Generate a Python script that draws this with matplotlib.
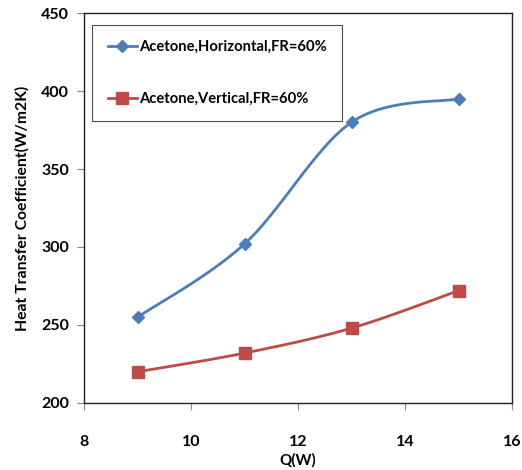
import numpy as np
import matplotlib
matplotlib.use("Agg")
import matplotlib.pyplot as plt

q = [9, 11, 13, 15]
horizontal = [255, 302, 380, 395]
vertical = [220, 232, 248, 272]
labels = ["Acetone,Horizontal,FR=60%", "Acetone,Vertical,FR=60%"]
xticks = [8, 10, 12, 14, 16]
yticks = [200, 250, 300, 350, 400, 450]

plt.rcParams['font.family'] = ['Lato', 'DejaVu Sans']


def smooth(x, y, n=40):
    x = np.asarray(x, float)
    y = np.asarray(y, float)
    px = np.concatenate([[x[0]], x, [x[-1]]])
    py = np.concatenate([[y[0]], y, [y[-1]]])
    xs, ys = [], []
    t = np.linspace(0, 1, n)
    for i in range(1, len(px) - 2):
        p0 = np.array([px[i], py[i]])
        p3 = np.array([px[i + 1], py[i + 1]])
        p1 = p0 + (np.array([px[i + 1], py[i + 1]]) - np.array([px[i - 1], py[i - 1]])) / 6
        p2 = p3 - (np.array([px[i + 2], py[i + 2]]) - np.array([px[i], py[i]])) / 6
        b = ((1 - t) ** 3)[:, None] * p0 + (3 * (1 - t) ** 2 * t)[:, None] * p1 + \
            (3 * (1 - t) * t ** 2)[:, None] * p2 + (t ** 3)[:, None] * p3
        xs.extend(b[:, 0])
        ys.extend(b[:, 1])
    return xs, ys


fig = plt.figure(figsize=(5.22, 4.70), dpi=100)
ax = fig.add_axes([0.161, 0.1426, 0.82, 0.8297])

blue = '#4A7EBB'
red = '#BE4B48'
for yv, col, mk, ms, lab in [(horizontal, blue, 'D', 6.5, labels[0]), (vertical, red, 's', 8, labels[1])]:
    sx, sy = smooth(q, yv)
    ax.plot(sx, sy, color=col, lw=2.0, solid_capstyle='round', zorder=3)
    ax.plot(q, yv, linestyle='none', marker=mk, color=col, ms=ms, zorder=4)
    ax.plot([], [], color=col, lw=2.0, marker=mk, ms=ms, label=lab)

ax.set_xlim(8, 16)
ax.set_ylim(200, 450)
ax.set_xticks(xticks)
ax.set_yticks(yticks)
ax.tick_params(axis='both', direction='out', length=5, color='#888888', labelsize=11.5, width=0.8)
for lbl in ax.get_xticklabels() + ax.get_yticklabels():
    lbl.set_fontweight('bold')
ax.tick_params(axis='x', pad=18)
ax.tick_params(axis='y', pad=6)
for s in ax.spines.values():
    s.set_color('#222222')
    s.set_linewidth(1.0)

ax.set_xlabel('Q(W)', fontsize=11, fontweight='bold', labelpad=3)
ax.set_ylabel('Heat Transfer Coefficient(W/m2K)', fontsize=11.3, fontweight='bold', labelpad=8)

leg = ax.legend(loc='upper left', bbox_to_anchor=(0.019, 0.97), frameon=True, fancybox=False,
                edgecolor='#222222', fontsize=10.6, handlelength=2.0, handletextpad=0.15,
                labelspacing=2.55, borderpad=1.05, borderaxespad=0)
leg.get_frame().set_linewidth(0.8)
leg.set_zorder(2)
for t in leg.get_texts():
    t.set_fontweight('bold')

fig.savefig('out.png', dpi=100)
